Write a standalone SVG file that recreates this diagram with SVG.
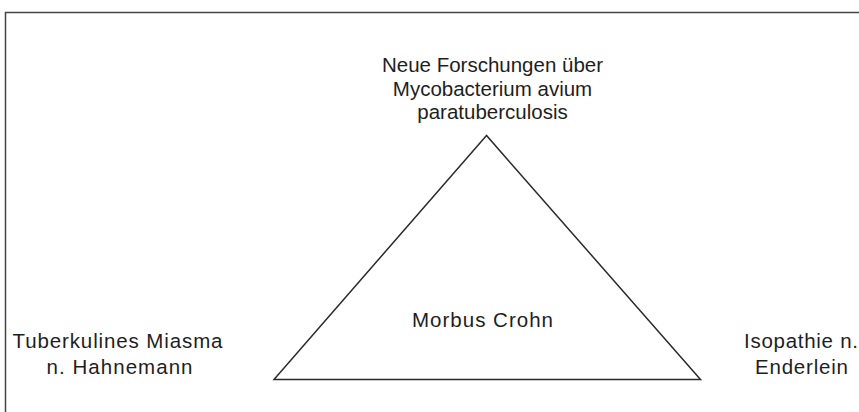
<svg xmlns="http://www.w3.org/2000/svg" width="859" height="412" viewBox="0 0 859 412">
<style>
.t{font-family:"Liberation Sans",Arial,sans-serif;font-size:20.5px;fill:#1e1e1e;text-anchor:middle}
.ln{fill:none;stroke:#2a2a2a;stroke-width:1.5}
</style>
<rect width="859" height="412" fill="#fff"/>
<path d="M5.5,412 V12.5 H859" fill="none" stroke="#444" stroke-width="1.5"/>
<g id="connectors">
<polygon class="ln" points="486.5,135.5 274,379.5 700.5,379.5"/>
</g>
<g id="node-top">
<text class="t" x="492.5" y="72">Neue Forschungen über</text>
<text class="t" x="492.5" y="95.5">Mycobacterium avium</text>
<text class="t" x="492.5" y="119">paratuberculosis</text>
</g>
<g id="node-center">
<text class="t" x="482.5" y="327" textLength="141" lengthAdjust="spacing">Morbus Crohn</text>
</g>
<g id="node-left">
<text class="t" x="117.5" y="348" textLength="210" lengthAdjust="spacing">Tuberkulines Miasma</text>
<text class="t" x="119.5" y="374" textLength="146" lengthAdjust="spacing">n. Hahnemann</text>
</g>
<g id="node-right">
<text class="t" x="801" y="348" textLength="114" lengthAdjust="spacing">Isopathie n.</text>
<text class="t" x="801.5" y="374" textLength="93" lengthAdjust="spacing">Enderlein</text>
</g>
</svg>
